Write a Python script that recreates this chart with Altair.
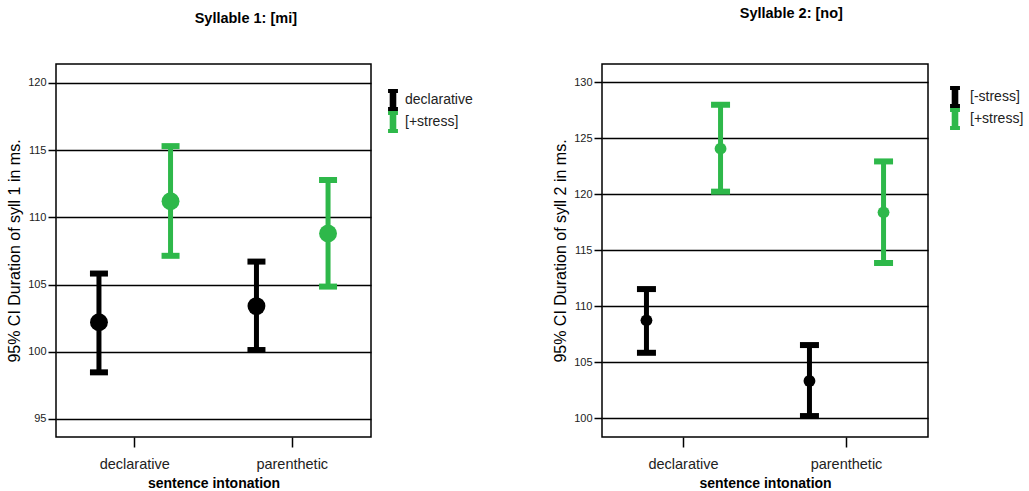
import altair as alt
import pandas as pd

# ---- data ----
intonation = ["declarative", "parenthetic"]

s1_groups = ["declarative", "[+stress]"]
s1_mean_a = [102.2, 103.4]
s1_lo_a = [98.47, 100.13]
s1_hi_a = [105.82, 106.71]
s1_mean_b = [111.2, 108.8]
s1_lo_b = [107.14, 104.85]
s1_hi_b = [115.3, 112.78]

s2_groups = ["[-stress]", "[+stress]"]
s2_mean_a = [108.75, 103.33]
s2_lo_a = [105.85, 100.2]
s2_hi_a = [111.54, 106.54]
s2_mean_b = [124.08, 118.39]
s2_lo_b = [120.24, 113.87]
s2_hi_b = [128.0, 122.94]

s1_ticks = [95, 100, 105, 110, 115, 120]
s2_ticks = [100, 105, 110, 115, 120, 125, 130]

BLACK = "#000000"
GREEN = "#2EB84A"
FONT = "Liberation Sans"
IBEAM = "M-0.45,-1H0.45V-0.64H0.3V0.64H0.45V1H-0.45V0.64H-0.3V-0.64H-0.45Z"


def make_df(groups, ma, la, ha, mb, lb, hb):
    rows = []
    for i, cat in enumerate(intonation):
        rows.append(dict(intonation=cat, group=groups[0], mean=ma[i], lo=la[i], hi=ha[i]))
        rows.append(dict(intonation=cat, group=groups[1], mean=mb[i], lo=lb[i], hi=hb[i]))
    return pd.DataFrame(rows)


def panel(df, groups, ydom, yticks, ytitle, title, w, h, pt_size, cap_w, lx, ly, loff,
          tdx, tdy):
    x = alt.X("intonation:N",
              scale=alt.Scale(domain=intonation, paddingInner=0, paddingOuter=0),
              axis=alt.Axis(title="sentence intonation", labelAngle=0))
    xo = alt.XOffset("group:N",
                     scale=alt.Scale(domain=groups, paddingInner=0, paddingOuter=0.1))
    yscale = alt.Scale(domain=ydom, nice=False, zero=False)
    yaxis = alt.Axis(values=yticks, title=ytitle, grid=True)
    color = alt.Color("group:N",
                      scale=alt.Scale(domain=groups, range=[BLACK, GREEN]),
                      sort=groups,
                      legend=alt.Legend(title=None, symbolType=IBEAM, symbolSize=484,
                                        symbolStrokeWidth=0, symbolOpacity=1,
                                        orient="none", legendX=lx, legendY=ly,
                                        labelOffset=loff))
    base = alt.Chart(df)
    rule = base.mark_rule(strokeWidth=5).encode(
        x=x, xOffset=xo,
        y=alt.Y("lo:Q", scale=yscale, axis=yaxis, title=ytitle),
        y2="hi:Q", color=color)
    cap_lo = base.mark_tick(size=cap_w, thickness=6, opacity=1).encode(
        x=x, xOffset=xo,
        y=alt.Y("lo:Q", scale=yscale, axis=yaxis, title=ytitle), color=color)
    cap_hi = base.mark_tick(size=cap_w, thickness=6, opacity=1).encode(
        x=x, xOffset=xo,
        y=alt.Y("hi:Q", scale=yscale, axis=yaxis, title=ytitle), color=color)
    pts = base.mark_circle(size=pt_size, opacity=1).encode(
        x=x, xOffset=xo,
        y=alt.Y("mean:Q", scale=yscale, axis=yaxis, title=ytitle), color=color)
    return alt.layer(rule, cap_lo, cap_hi, pts).properties(
        width=w, height=h,
        title=alt.TitleParams(title, anchor="middle", frame="bounds", dx=tdx,
                              dy=tdy, offset=38))


df1 = make_df(s1_groups, s1_mean_a, s1_lo_a, s1_hi_a, s1_mean_b, s1_lo_b, s1_hi_b)
df2 = make_df(s2_groups, s2_mean_a, s2_lo_a, s2_hi_a, s2_mean_b, s2_lo_b, s2_hi_b)

p1 = panel(df1, s1_groups, [93.66, 121.41], s1_ticks,
           "95% CI Duration of syll 1 in ms.", "Syllable 1: [mi]", 315, 373, 320, 18,
           326, 25, 1, 6, 0)
p2 = panel(df2, s2_groups, [98.33, 131.64], s2_ticks,
           "95% CI Duration of syll 2 in ms.", "Syllable 2: [no]", 326, 373, 140, 19,
           342, 22, 4, 3, -5)

chart = alt.hconcat(p1, p2, spacing=77).resolve_scale(
    color="independent", y="independent", x="independent", xOffset="independent"
).properties(
    padding={"left": 5, "top": 4, "right": 0, "bottom": 0},
    background="white",
).configure_view(
    stroke="black", strokeWidth=1.5
).configure_axis(
    labelFont=FONT, titleFont=FONT, domain=False,
    tickColor="black", tickWidth=1.5,
    labelColor="#222222", titleColor="black",
).configure_axisY(
    tickSize=8, labelFontSize=11, labelPadding=2,
    titleFontSize=16, titleFontWeight="normal", titlePadding=5,
    gridColor="black", gridWidth=1.5, gridOpacity=1,
).configure_axisX(
    tickSize=10, labelFontSize=14.5, labelPadding=10,
    titleFontSize=14, titleFontWeight="bold", titlePadding=6, grid=False,
).configure_legend(
    labelFont=FONT, labelFontSize=14, labelColor="#222222",
    padding=0, rowPadding=0,
).configure_title(
    font=FONT, fontSize=14.5, fontWeight="bold", color="black",
)

chart.save("out.html", embed_options={"renderer": "svg", "actions": False})
